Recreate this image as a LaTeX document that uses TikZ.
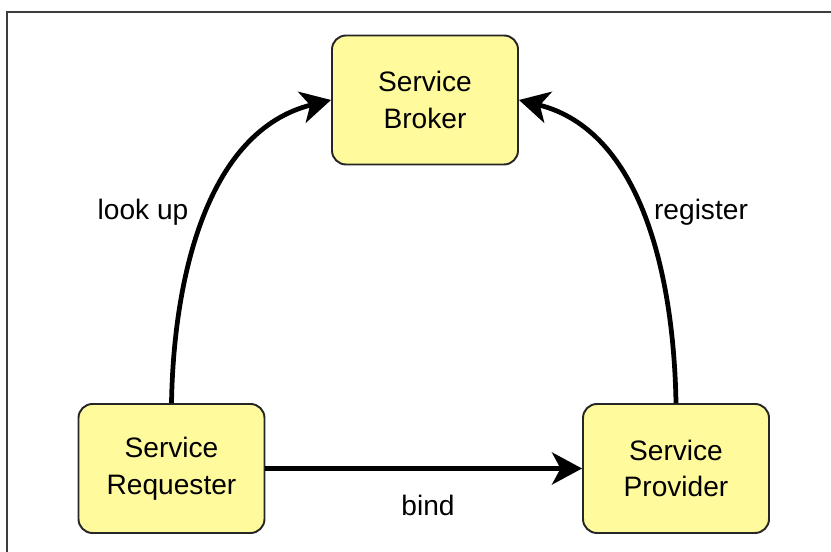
\documentclass[tikz,border=0pt]{standalone}
\usepackage{fontspec}
\setmainfont{Liberation Sans}
\usepackage{tikz}
\usetikzlibrary{arrows.meta}

\definecolor{boxfill}{RGB}{255,250,155}
\definecolor{framegray}{RGB}{60,60,60}

\tikzset{
  sbox/.style={draw=black!85, line width=1.1pt, fill=boxfill, rounded corners=0.28cm,
    minimum width=3.72cm, minimum height=2.58cm, align=center,
    font=\fontsize{16}{21}\selectfont},
  flow/.style={line width=2.7pt, -{Stealth[length=0.6cm, width=0.64cm, inset=0.17cm]}},
  lbl/.style={font=\fontsize{16}{21}\selectfont}
}

\begin{document}
\begin{tikzpicture}
            % Khung
            \useasboundingbox (0,0) rectangle (16.62,11.04);
            \clip (0,0) rectangle (16.62,11.04);
            \draw[framegray, line width=1.1pt] (0.14,-0.5) -- (0.14,10.8) -- (17,10.8);
            % Các hộp
            \node[sbox] (broker) at (8.5,9.04) {Service\\Broker};
            \node[sbox] (requester) at (3.43,1.67) {Service\\Requester};
            \node[sbox] (provider) at (13.52,1.67) {Service\\Provider};
            % Các mũi tên
            \draw[flow] (requester.north) to[out=89, in=194, looseness=0.95] (broker.west);
            \draw[flow] (provider.north) to[out=91, in=-14, looseness=0.95] (broker.east);
            \draw[flow] (requester.east) -- (provider.west);
            % Nhãn
            \node[lbl] (lookup) at (2.86,6.8) {look up};
            \node[lbl] (register) at (14.02,6.8) {register};
            \node[lbl] (bind) at (8.56,0.94) {bind};
\end{tikzpicture}
\end{document}
